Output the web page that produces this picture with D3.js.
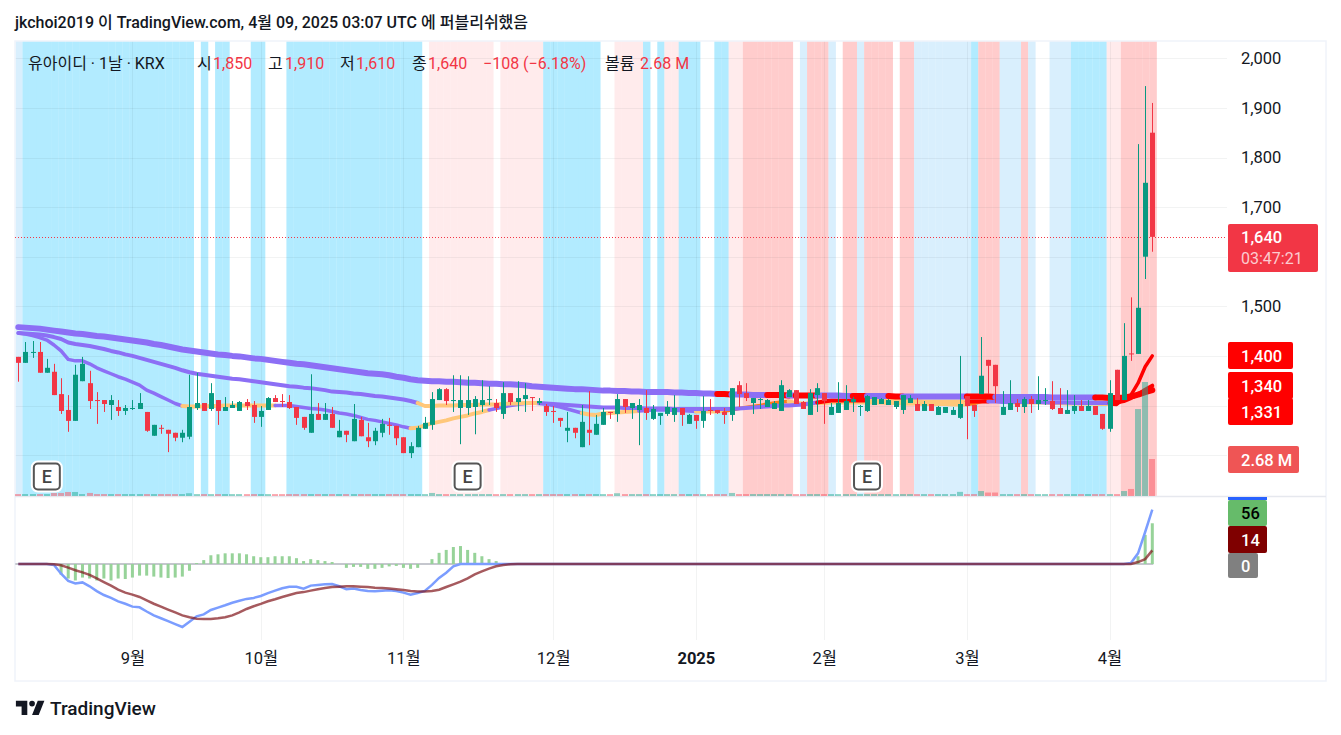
<!DOCTYPE html>
<html>
<head>
<meta charset="utf-8">
<script src="https://cdnjs.cloudflare.com/ajax/libs/d3/7.8.5/d3.min.js"></script>
<style>
  body { margin: 0; background: #fff; }
  text { font-family: Roboto, "Noto Sans CJK KR", sans-serif; }
</style>
</head>
<body>
<svg id="chart" width="1341" height="735"></svg>
<script>
// candles, left to right, one entry per trading day
const opens = [1398,1386,1407,1408,1366,1368,1323,1291,1269,1349,1345,1311,1311,1301,1297,1289,1293,1293,1287,1239,
  1255,1251,1245,1235,1237,1295,1305,1293,1311,1289,1295,1289,1307,1301,1277,1291,1315,1309,1307,1297,
  1277,1245,1283,1271,1283,1236,1249,1228,1271,1236,1228,1245,1261,1259,1236,1204,1216,1253,1261,1311,
  1333,1309,1295,1295,1297,1301,1311,1305,1283,1325,1307,1313,1317,1305,1299,1289,1275,1249,1255,1216,
  1251,1241,1261,1287,1283,1313,1295,1291,1295,1273,1279,1283,1281,1295,1263,1281,1269,1291,1291,1287,
  1281,1341,1325,1305,1311,1297,1293,1289,1317,1331,1307,1281,1321,1325,1281,1285,1291,1307,1297,1289,
  1301,1303,1301,1297,1291,1305,1303,1289,1303,1281,1285,1281,1275,1319,1301,1323,1392,1382,1281,1291,
  1305,1297,1313,1303,1309,1309,1295,1283,1289,1299,1289,1299,1283,1253,1372,1311,1405,1404,1600,1850];
const highs = [1398,1428,1430,1428,1394,1384,1355,1321,1382,1398,1370,1327,1311,1321,1311,1301,1311,1325,1287,1261,
  1261,1251,1245,1251,1362,1366,1305,1345,1311,1317,1309,1309,1313,1309,1299,1317,1321,1323,1321,1297,
  1277,1363,1305,1305,1297,1271,1249,1303,1277,1265,1255,1273,1275,1259,1236,1226,1259,1277,1327,1335,
  1335,1361,1361,1359,1319,1351,1339,1313,1347,1325,1349,1345,1317,1315,1303,1299,1275,1287,1255,1301,
  1329,1281,1295,1287,1323,1313,1305,1313,1331,1301,1285,1309,1321,1295,1283,1281,1319,1313,1291,1295,
  1335,1349,1345,1315,1315,1313,1309,1351,1333,1331,1309,1333,1345,1325,1305,1347,1341,1317,1301,1321,
  1317,1315,1313,1309,1321,1321,1315,1309,1303,1299,1297,1297,1400,1319,1301,1438,1392,1382,1329,1351,
  1313,1317,1319,1359,1335,1349,1335,1331,1321,1311,1311,1299,1283,1351,1372,1466,1518,1827,1944,1910];
const lows = [1348,1386,1396,1366,1366,1321,1283,1247,1269,1349,1293,1263,1287,1271,1279,1281,1291,1293,1247,1239,
  1243,1206,1228,1226,1232,1291,1289,1289,1261,1289,1295,1289,1291,1265,1257,1291,1307,1297,1293,1261,
  1251,1245,1271,1271,1255,1236,1226,1228,1238,1216,1220,1236,1241,1220,1204,1194,1216,1253,1251,1311,
  1301,1287,1222,1281,1242,1287,1301,1287,1273,1301,1289,1287,1289,1301,1279,1265,1257,1226,1234,1216,
  1220,1241,1261,1273,1267,1285,1273,1220,1271,1271,1261,1279,1267,1259,1263,1253,1255,1281,1283,1263,
  1269,1297,1309,1283,1293,1297,1293,1289,1317,1303,1293,1281,1287,1263,1281,1285,1291,1287,1279,1287,
  1301,1303,1301,1293,1283,1305,1289,1289,1289,1281,1285,1281,1273,1232,1277,1323,1323,1305,1281,1291,
  1287,1285,1285,1291,1301,1291,1283,1283,1283,1289,1289,1281,1251,1247,1311,1311,1390,1404,1555,1610];
const closes = [1386,1408,1408,1366,1376,1321,1289,1269,1362,1384,1309,1309,1303,1311,1289,1295,1295,1305,1249,1261,
  1253,1243,1235,1245,1297,1305,1289,1325,1289,1297,1301,1307,1299,1277,1289,1315,1307,1307,1295,1275,
  1255,1283,1271,1283,1255,1249,1241,1273,1238,1228,1249,1263,1259,1234,1204,1218,1255,1265,1313,1333,
  1309,1311,1311,1311,1313,1311,1313,1295,1325,1307,1315,1321,1315,1309,1287,1287,1269,1255,1245,1267,
  1245,1263,1287,1285,1313,1297,1305,1301,1285,1293,1285,1297,1295,1281,1281,1269,1289,1289,1285,1281,
  1335,1323,1315,1315,1313,1311,1305,1341,1331,1303,1293,1325,1335,1309,1297,1305,1309,1313,1299,1319,
  1317,1313,1311,1309,1321,1315,1289,1303,1289,1297,1297,1291,1303,1299,1289,1360,1380,1339,1297,1305,
  1297,1313,1303,1311,1311,1293,1283,1291,1299,1289,1299,1281,1253,1325,1311,1400,1403,1497,1749,1640];

// volume in millions
const volumes = [.14,.14,.14,.14,.14,.22,.22,.29,.29,.14,.22,.14,.14,.14,.14,.14,.14,.14,.14,.14,
  .14,.14,.14,.14,.2,.14,.14,.14,.14,.14,.14,.14,.14,.14,.14,.14,.14,.14,.14,.14,
  .14,.14,.14,.14,.14,.14,.14,.14,.14,.14,.14,.14,.14,.14,.14,.14,.14,.14,.22,.14,
  .14,.14,.14,.14,.14,.14,.14,.14,.14,.14,.14,.14,.14,.14,.14,.14,.14,.14,.14,.14,
  .14,.14,.14,.14,.2,.14,.14,.14,.14,.14,.14,.14,.14,.14,.14,.14,.14,.14,.14,.14,
  .22,.14,.14,.14,.14,.14,.14,.14,.14,.14,.14,.14,.14,.14,.14,.14,.14,.14,.14,.14,
  .14,.14,.14,.14,.14,.14,.14,.14,.14,.14,.14,.14,.3,.14,.14,.36,.25,.25,.14,.14,
  .14,.14,.14,.14,.14,.14,.14,.14,.14,.14,.14,.14,.14,.14,.14,.36,.51,6.3,8.26,2.68];

// moving averages
const maLong = [1458,1457,1456,1455,1453,1451,1449,1447,1445,1444,1442,1440,1439,1437,1435,1433,1431,1429,1427,1424,
  1422,1419,1416,1413,1411,1409,1407,1405,1403,1402,1400,1399,1397,1395,1394,1392,1390,1388,1386,1384,
  1383,1381,1379,1377,1375,1373,1371,1369,1367,1365,1364,1363,1361,1358,1356,1353,1351,1350,1349,1349,
  1348,1348,1347,1346,1346,1345,1344,1344,1343,1343,1342,1341,1339,1338,1337,1336,1335,1334,1333,1333,
  1332,1331,1330,1330,1329,1329,1328,1328,1327,1327,1327,1327,1326,1326,1325,1325,1324,1324,1323,1323,
  1322,1322,1322,1321,1321,1321,1321,1321,1320,1320,1320,1320,1320,1320,1320,1320,1319,1319,1319,1319,
  1319,1319,1319,1318,1318,1318,1318,1318,1318,1318,1318,1318,1318,1318,1318,1318,1318,1317,1317,1317,
  1317,1317,1317,1317,1317,1316,1316,1316,1316,1316,1316,1316,1316,1315,1315,1316,1318,1322,1327,1331];
const maMid = [1446,1445,1444,1443,1441,1438,1434,1427,1424,1422,1420,1417,1414,1410,1407,1403,1400,1396,1392,1388,
  1384,1380,1376,1371,1367,1364,1362,1360,1358,1356,1354,1353,1351,1349,1347,1345,1343,1341,1339,1338,
  1336,1335,1333,1331,1328,1327,1326,1324,1323,1321,1319,1318,1316,1314,1312,1309,1305,1299,1299,1300,
  1300,1300,1301,1301,1301,1302,1302,1302,1303,1304,1304,1305,1305,1305,1304,1303,1302,1301,1300,1299,
  1298,1297,1296,1296,1296,1295,1295,1295,1294,1294,1294,1294,1293,1293,1293,1293,1293,1293,1293,1293,
  1293,1294,1295,1296,1297,1298,1299,1300,1300,1301,1302,1304,1306,1308,1310,1310,1310,1310,1310,1310,
  1310,1310,1309,1309,1309,1309,1309,1308,1308,1308,1308,1308,1308,1308,1308,1308,1308,1308,1307,1307,
  1307,1307,1307,1307,1306,1306,1306,1306,1305,1305,1305,1305,1305,1305,1306,1309,1315,1322,1332,1340];
const maFast = [1446,1444,1441,1437,1432,1422,1410,1393,1390,1390,1384,1376,1370,1364,1358,1353,1347,1341,1331,1325,
  1318,1311,1304,1299,1298,1298,1298,1299,1299,1300,1300,1300,1300,1300,1300,1300,1300,1300,1300,1298,
  1296,1294,1293,1291,1288,1285,1283,1280,1276,1272,1270,1267,1264,1261,1257,1254,1255,1260,1264,1267,
  1270,1274,1277,1280,1284,1287,1291,1294,1297,1300,1302,1304,1305,1304,1303,1300,1297,1293,1289,1285,
  1282,1281,1284,1285,1286,1287,1288,1289,1290,1291,1291,1291,1290,1290,1289,1288,1288,1288,1288,1289,
  1291,1294,1296,1298,1300,1303,1305,1307,1308,1305,1304,1304,1305,1305,1306,1306,1306,1306,1306,1306,
  1306,1306,1305,1305,1304,1304,1304,1303,1303,1303,1303,1302,1302,1302,1304,1308,1311,1311,1308,1306,
  1306,1306,1306,1306,1306,1305,1305,1304,1304,1304,1304,1304,1303,1303,1302,1314,1321,1345,1378,1400];

// line colour per stretch of bars: [state, number of bars]
const maLongRuns = [["p",99],["r",2],["p",5],["r",3],["p",1],["r",3],["p",5],["r",2],["p",3],["r",2],["p",9],["r",4],["p",14],["r",8]];
const maMidRuns = [["p",57],["o",17],["p",39],["r",7],["o",14],["r",3],["p",17],["r",6]];
const maFastRuns = [["p",24],["o",13],["p",19],["o",11],["p",13],["o",8],["p",8],["o",4],["d",9],["o",25],["d",3],["o",17],["r",6]];

// background state per stretch of bars
const bandRuns = [["b",1],["c",24],["n",1],["c",1],["n",1],["c",2],["n",3],["c",2],["n",3],["c",19],["n",1],["p",9],["n",1],["p",6],
  ["c",8],["n",2],["p",4],["c",1],["n",1],["c",1],["p",2],["c",3],["n",2],["c",2],["p",2],["r",7],["n",1],["b",1],["r",3],["b",1],["n",1],
  ["r",2],["b",1],["r",4],["n",1],["r",2],["b",8],["c",1],["r",3],["b",3],["r",1],["b",1],["n",2],["b",3],["c",5],["p",2],["r",5]];

// oscillator pane
const macd = [0,0,0,0,0,-1,-10,-17.5,-20,-19,-23,-28,-32,-35,-38.5,-41,-44,-44.7,-49,-53,
  -56,-59,-62,-65,-59.5,-54,-52,-47.4,-45,-42.6,-40,-38,-36,-35,-33,-30,-27.5,-25,-23.4,-23.4,
  -25.4,-22.3,-21.6,-21,-20.6,-23,-26,-25.4,-26.8,-27.8,-28,-27.5,-27,-27.8,-29.5,-31.6,-30,-27.8,-21.6,-14.4,
  -9,-2.4,0,0,0,0,0,0,0,0,0,0,0,0,0,0,0,0,0,0,
  0,0,0,0,0,0,0,0,0,0,0,0,0,0,0,0,0,0,0,0,
  0,0,0,0,0,0,0,0,0,0,0,0,0,0,0,0,0,0,0,0,
  0,0,0,0,0,0,0,0,0,0,0,0,0,0,0,0,0,0,0,0,
  0,0,0,0,0,0,0,0,0,0,0,0,0,0,0,0,1,11,33,56];
const signal = [0,0,0,0,0,-.3,-1.4,-3.8,-6.5,-8.6,-11.3,-14.8,-18.6,-22.3,-26.5,-29.6,-31.6,-34,-37.5,-41,
  -44,-47,-50,-53,-55,-56.4,-56.7,-56.7,-56,-55,-53,-50,-46.4,-43.6,-41.2,-38.5,-36.4,-34,-32,-30,
  -29,-27.5,-26,-24.7,-23.7,-23.4,-23,-23,-23.4,-23.7,-24.4,-24.7,-25.4,-26,-26.8,-27.8,-28.5,-28.5,-27.8,-26.5,
  -23.7,-21,-18.2,-14.8,-10.7,-7.6,-4.8,-2.4,-1,-.3,0,0,0,0,0,0,0,0,0,0,
  0,0,0,0,0,0,0,0,0,0,0,0,0,0,0,0,0,0,0,0,
  0,0,0,0,0,0,0,0,0,0,0,0,0,0,0,0,0,0,0,0,
  0,0,0,0,0,0,0,0,0,0,0,0,0,0,0,0,0,0,0,0,
  0,0,0,0,0,0,0,0,0,0,0,0,0,0,0,0,0,2,5,14];
const hist = [0,0,0,0,0,0,-11,-15,-17,-14,-15,-17,-15,-17,-15,-15.5,-14,-12,-12,-13,
  -14,-14.5,-14,-13,-7,1,4,9,10,11,11,11,10,8,7,7,8,8,8,6,
  3,5,4,3,2,0,-4,-3,-3,-5,-5,-4,-2.5,-2,-4,-5,-4,0,5,11.5,
  14.5,17.5,18.5,14.5,11.5,8,5,3,1,0,0,0,0,0,0,0,0,0,0,0,
  0,0,0,0,0,0,0,0,0,0,0,0,0,0,0,0,0,0,0,0,
  0,0,0,0,0,0,0,0,0,0,0,0,0,0,0,0,0,0,0,0,
  0,0,0,0,0,0,0,0,0,0,0,0,0,0,0,0,0,0,0,0,
  0,0,0,0,0,0,0,0,0,0,0,0,0,0,0,0,0,8,30,42];

// axes
const priceLabels = [2000, 1900, 1800, 1700, 1500];
const priceGrid = [2000, 1900, 1800, 1700, 1600, 1500, 1400, 1300, 1200];
const monthBars = [16, 34, 54, 75, 95, 113, 133, 153];
const monthLabels = ["9월", "10월", "11월", "12월", "2025", "2월", "3월", "4월"];
const earningsBars = [4, 63, 119];

const last = opens.length - 1;
const x = d3.scaleLinear().domain([0, last]).range([18.3, 1152.3]);
const y = d3.scaleLinear().domain([1200, 2000]).range([455.1, 58.3]);
const yVol = d3.scaleLinear().domain([0, 8.26]).range([496, 382]);
const yOsc = d3.scaleLinear().domain([-65, 56]).range([627, 509.7]);
const barStep = x(1) - x(0);

const chartLeft = 15, chartRight = 1326, chartTop = 41, paneBottom = 496, oscBottom = 640, chartBottom = 681, scaleLeft = 1228;
const up = "#089981", down = "#F23645";
const bandColor = { c: "#b2ebff", b: "#d9effd", p: "#ffebec", r: "#ffcccc" };
const lineColor = { p: "#8c6ff5", o: "#ffc77a", d: "#ff7a1a", r: "#ff0000" };
const comma = d3.format(",");

function expandRuns(runs) {
  const out = [];
  runs.forEach(r => { for (let i = 0; i < r[1]; i++) out.push(r[0]); });
  return out;
}

const svg = d3.select("#chart");

// background bands
const bandStates = expandRuns(bandRuns);
svg.append("g").selectAll("rect")
  .data(bandStates.map((s, i) => ({ s, i })).filter(d => d.s !== "n"))
  .join("rect")
  .attr("x", d => x(d.i) - 2.9)
  .attr("y", chartTop)
  .attr("width", barStep + 0.3)
  .attr("height", paneBottom - chartTop)
  .attr("fill", d => bandColor[d.s]);

// grid
const grid = svg.append("g").attr("stroke", "rgba(42,46,57,0.06)").attr("stroke-width", 1);
priceGrid.forEach(p => {
  grid.append("line").attr("x1", chartLeft).attr("x2", scaleLeft - 1)
    .attr("y1", Math.round(y(p)) + 0.5).attr("y2", Math.round(y(p)) + 0.5);
});
monthBars.forEach(b => {
  grid.append("line").attr("x1", Math.round(x(b)) + 0.5).attr("x2", Math.round(x(b)) + 0.5)
    .attr("y1", chartTop).attr("y2", oscBottom);
});

// frame
const frame = svg.append("g").attr("stroke", "#f0f3fa").attr("stroke-width", 1.5).attr("fill", "none");
frame.append("rect").attr("x", chartLeft).attr("y", chartTop).attr("width", chartRight - chartLeft).attr("height", chartBottom - chartTop);
frame.append("line").attr("x1", chartLeft).attr("x2", chartRight).attr("y1", paneBottom + 0.5).attr("y2", paneBottom + 0.5).attr("stroke", "#e6e8ee");

// moving averages, slowest on top
function drawMa(values, runs, width) {
  const states = expandRuns(runs);
  const line = d3.line().x(d => x(d.i)).y(d => y(d.v));
  let start = 0;
  const g = svg.append("g").attr("fill", "none").attr("stroke-linecap", "round").attr("stroke-linejoin", "round");
  for (let i = 1; i <= states.length; i++) {
    if (i === states.length || states[i] !== states[start]) {
      const pts = [];
      for (let k = Math.max(start - 1, 0); k < i; k++) pts.push({ i: k, v: values[k] });
      g.append("path").attr("d", line(pts)).attr("stroke", lineColor[states[start]])
        .attr("stroke-width", states[start] === "o" ? Math.max(width, 4) : width);
      start = i;
    }
  }
}
drawMa(maFast, maFastRuns, 3.5);
drawMa(maMid, maMidRuns, 4);
drawMa(maLong, maLongRuns, 6);

// volume
svg.append("g").selectAll("rect").data(volumes).join("rect")
  .attr("x", (d, i) => Math.round(x(i)) - 3)
  .attr("width", 6)
  .attr("y", d => yVol(d))
  .attr("height", d => yVol(0) - yVol(d))
  .attr("fill", (d, i) => closes[i] >= opens[i] ? "rgba(34,171,148,0.5)" : "rgba(247,82,95,0.5)");

// last price line
svg.append("line").attr("x1", chartLeft).attr("x2", scaleLeft - 1)
  .attr("y1", Math.round(y(closes[last])) + 0.5).attr("y2", Math.round(y(closes[last])) + 0.5)
  .attr("stroke", down).attr("stroke-dasharray", "1 2");

// candles
const candle = svg.append("g").selectAll("g").data(opens).join("g")
  .attr("fill", (d, i) => closes[i] >= opens[i] ? up : down);
candle.append("rect")
  .attr("x", (d, i) => Math.round(x(i)))
  .attr("width", 1)
  .attr("y", (d, i) => y(highs[i]))
  .attr("height", (d, i) => y(lows[i]) - y(highs[i]));
candle.append("rect")
  .attr("x", (d, i) => Math.round(x(i)) - 2)
  .attr("width", 5)
  .attr("y", (d, i) => y(Math.max(opens[i], closes[i])))
  .attr("height", (d, i) => Math.max(1, Math.abs(y(opens[i]) - y(closes[i]))));

// earnings badges
const badge = svg.append("g").selectAll("g").data(earningsBars).join("g")
  .attr("transform", d => `translate(${x(d)},476.5)`);
badge.append("rect").attr("x", -14).attr("y", -14).attr("width", 28).attr("height", 28).attr("rx", 5)
  .attr("fill", "#fff").attr("stroke", "#fff").attr("stroke-width", 4);
badge.append("rect").attr("x", -13).attr("y", -13).attr("width", 26).attr("height", 26).attr("rx", 4)
  .attr("fill", "#fff").attr("stroke", "#555").attr("stroke-width", 2);
badge.append("text").text("E").attr("text-anchor", "middle").attr("y", 6.5)
  .attr("font-size", 18).attr("font-weight", 500).attr("fill", "#444");

// oscillator pane
svg.append("line").attr("x1", x(0) - 3).attr("x2", x(last) + 1)
  .attr("y1", yOsc(0)).attr("y2", yOsc(0)).attr("stroke", "#b2b5be").attr("stroke-width", 1.5);
svg.append("g").selectAll("rect").data(hist).join("rect")
  .attr("x", (d, i) => x(i) - 1.5)
  .attr("width", 3)
  .attr("y", d => Math.min(yOsc(d), yOsc(0)))
  .attr("height", d => Math.abs(yOsc(d) - yOsc(0)))
  .attr("fill", "#97d399");
const oscLine = d3.line().x((d, i) => x(i)).y(d => yOsc(d));
svg.append("path").attr("d", oscLine(macd)).attr("fill", "none").attr("stroke", "#7b9dff").attr("stroke-width", 2.5);
svg.append("path").attr("d", oscLine(signal)).attr("fill", "none").attr("stroke", "rgba(128,20,25,0.7)").attr("stroke-width", 2.5);

// axes
const priceAxis = d3.axisRight(y).tickValues(priceLabels).tickFormat(comma).tickSize(0).tickPadding(0);
const priceG = svg.append("g").attr("transform", "translate(1241,0)").call(priceAxis);
const timeAxis = d3.axisBottom(x).tickValues(monthBars).tickFormat((d, i) => monthLabels[i]).tickSize(0).tickPadding(0);
const timeG = svg.append("g").attr("transform", "translate(0,652)").call(timeAxis);
[priceG, timeG].forEach(g => {
  g.select(".domain").remove();
  g.selectAll("text").attr("font-size", 16.5).attr("fill", "#131722")
    .style("font-family", 'Roboto, "Noto Sans CJK KR", sans-serif');
});
timeG.selectAll("text").attr("font-weight", d => d === 95 ? 700 : 400);

// price scale labels
function scaleLabel(yTop, h, w, fill, text, textFill) {
  svg.append("rect").attr("x", scaleLeft).attr("y", yTop).attr("width", w).attr("height", h).attr("rx", 2).attr("fill", fill);
  svg.append("text").attr("x", 1241).attr("y", yTop + h / 2 + 6).text(text)
    .attr("font-size", 16.5).attr("font-weight", 500).attr("fill", textFill);
}
scaleLabel(224, 48, 90, down, "", "#fff");
svg.append("text").attr("x", 1241).attr("y", 243).text(comma(closes[last])).attr("font-size", 16.5).attr("font-weight", 500).attr("fill", "#fff");
svg.append("text").attr("x", 1241).attr("y", 264).text("03:47:21").attr("font-size", 16).attr("fill", "rgba(255,255,255,0.75)");
scaleLabel(342, 27, 65, "#ff0000", comma(maFast[last]), "#fff");
scaleLabel(372, 27, 65, "#ff0000", comma(maMid[last]), "#fff");
scaleLabel(398, 27, 65, "#ff0000", comma(maLong[last]), "#fff");
scaleLabel(446, 27, 71, "#ef5555", volumes[last].toFixed(2) + " M", "#fff");
svg.append("rect").attr("x", scaleLeft).attr("y", 497).attr("width", 39).attr("height", 3).attr("fill", "#2962ff");
scaleLabel(500, 26, 39, "#66bb6a", String(macd[last]), "#000");
scaleLabel(526, 27, 39, "#7f0000", String(signal[last]), "#fff");
scaleLabel(553, 25, 30, "#808080", "0", "#fff");

// header
svg.append("text").attr("x", 15).attr("y", 28).attr("font-size", 16).attr("font-weight", 500).attr("fill", "#131722")
  .text("jkchoi2019 이 TradingView.com, 4월 09, 2025 03:07 UTC 에 퍼블리쉬했음");

// legend
const legend = svg.append("g").attr("font-size", 16);
function legendText(px, str, fill) {
  legend.append("text").attr("x", px).attr("y", 69).attr("fill", fill).text(str);
}
legendText(28, "유아이디 · 1날 · KRX", "#131722");
legendText(197, "시", "#131722");
legendText(213, comma(opens[last]), down);
legendText(268, "고", "#131722");
legendText(285, comma(highs[last]), down);
legendText(340, "저", "#131722");
legendText(356, comma(lows[last]), down);
legendText(412, "종", "#131722");
legendText(428, comma(closes[last]), down);
legendText(483, "−108 (−6.18%)", down);
legendText(605, "볼륨", "#131722");
legendText(640, volumes[last].toFixed(2) + " M", down);

// footer logo
svg.append("path")
  .attr("d", "M14 6H2v6h6v9h6V6zm12 15h-7l6-15h7l-6 15zm-7-9a3 3 0 1 0 0-6 3 3 0 0 0 0 6z")
  .attr("transform", "translate(14,695) scale(0.95)")
  .attr("fill", "#131722");
svg.append("text").attr("x", 50).attr("y", 715).attr("font-size", 19).attr("font-weight", 500).attr("fill", "#131722").text("TradingView");
</script>
</body>
</html>
